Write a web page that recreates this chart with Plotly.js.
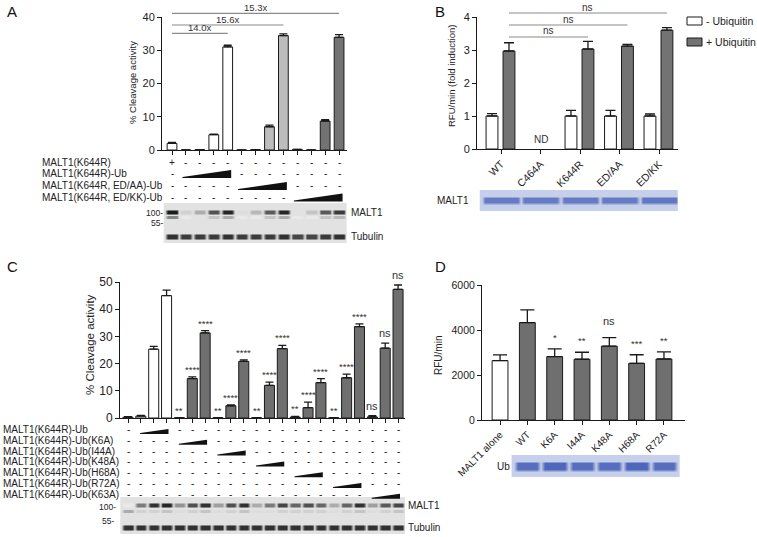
<!DOCTYPE html>
<html><head><meta charset="utf-8">
<script src="https://cdn.plot.ly/plotly-3.0.1.min.js"></script>
<style>body{margin:0;background:#fff}#chart{width:757px;height:537px}</style>
</head><body><div id="chart"></div>
<script>
// ================= DATA =================
// Panel A
const lanesA = [1,2,3,4,5,6,7,8,9,10,11,12,13];
const cleavageA = [2.0, 0, 0.1, 4.6, 31.0, 0, 0.1, 7.0, 34.4, 0.2, 0, 8.7, 33.9];
const errA = [0.3, null, null, 0.2, 0.5, null, null, 0.5, 0.5, null, null, 0.4, 0.8];
const groupA = ['Ub','Ub','Ub','Ub','Ub','AA','AA','AA','AA','KK','KK','KK','KK'];
const foldLabelsA = ['14.0x','15.6x','15.3x'];
const foldEndLaneA = [5, 9, 13];
const tableRowsA = ['MALT1(K644R)','MALT1(K644R)-Ub','MALT1(K644R, ED/AA)-Ub','MALT1(K644R, ED/KK)-Ub'];
const tableMarksA = ['+------------','-WWWW--------','-----WWWW----','---------WWWW'];
const blotA_MALT1 = [0.95,0.15,0.3,0.7,0.9,0.1,0.25,0.65,0.9,0.08,0.2,0.65,0.8];
const blotA_lower = [0.45,0.05,0.08,0.2,0.3,0.05,0.05,0.2,0.3,0.05,0.05,0.2,0.25];
const blotA_tubulin = [0.85,0.8,0.8,0.8,0.85,0.8,0.8,0.8,0.85,0.75,0.75,0.8,0.85];

// Panel B
const mutantsB = ['WT','C464A','K644R','ED/AA','ED/KK'];
const minusUbB = [1.0, null, 1.0, 1.0, 1.0];
const minusUbErrB = [0.07, null, 0.17, 0.17, 0.06];
const plusUbB = [2.97, null, 3.03, 3.12, 3.6];
const plusUbErrB = [0.25, null, 0.23, 0.05, 0.08];
const nsEndB = [2, 3, 4];
const blotB_MALT1 = [0.75,0.75,0.75,0.75,0.78];

// Panel C
const lanesC = [1,2,3,4,5,6,7,8,9,10,11,12,13,14,15,16,17,18,19,20,21,22];
const cleavageC = [0.3,0.7,25.3,45.0,0.1,14.5,31.3,0.1,4.5,20.8,0.1,12.0,25.5,0.3,3.8,13.0,0.1,14.8,33.6,0.4,25.7,47.3];
const errC = [0.2,0.3,1.0,2.0,null,0.6,0.8,null,0.3,0.6,null,1.2,1.2,0.3,2.0,1.5,null,1.3,1.0,0.5,1.8,1.6];
const sigC = ['','','','','**','****','****','**','****','****','**','****','****','**','****','****','**','****','****','ns','ns','ns'];
const tableRowsC = ['MALT1(K644R)-Ub','MALT1(K644R)-Ub(K6A)','MALT1(K644R)-Ub(I44A)','MALT1(K644R)-Ub(K48A)','MALT1(K644R)-Ub(H68A)','MALT1(K644R)-Ub(R72A)','MALT1(K644R)-Ub(K63A)'];
const tableMarksC = [
'-WWW------------------',
'----WWW---------------',
'-------WWW------------',
'----------WWW---------',
'-------------WWW------',
'----------------WWW---',
'-------------------WWW'];
const blotC_MALT1 = [0.05,0.5,0.85,0.9,0.4,0.7,0.85,0.35,0.7,0.85,0.3,0.5,0.75,0.6,0.7,0.6,0.3,0.6,0.85,0.35,0.65,0.75];
const blotC_lower = [0.3,0.15,0.15,0.2,0.1,0.15,0.2,0.1,0.15,0.2,0.1,0.1,0.15,0.15,0.15,0.15,0.1,0.15,0.2,0.1,0.15,0.2];
const blotC_tubulin = [0.85,0.85,0.85,0.85,0.85,0.85,0.85,0.85,0.85,0.85,0.85,0.85,0.85,0.85,0.85,0.85,0.85,0.85,0.85,0.85,0.85,0.85];

// Panel D
const variantsD = ['MALT1 alone','WT','K6A','I44A','K48A','H68A','R72A'];
const rfuD = [2640, 4330, 2820, 2700, 3280, 2520, 2710];
const rfuErrD = [250, 560, 340, 310, 380, 380, 320];
const sigD = ['', '', '*', '**', 'ns', '***', '**'];
const blotD_Ub = [0.85,0.9,0.85,0.85,0.9,0.85];

// ================= HELPERS =================
const FONT = 'Liberation Sans, Arial, Helvetica, sans-serif';
const W = 757, H = 537;
const px = p => p / W;
const py = p => 1 - p / H;
const f = (size, color) => ({family: FONT, size: size, color: color || '#222'});
const annotations = [];
const shapes = [];
function txt(o) { annotations.push(Object.assign({showarrow: false, xanchor: 'center', yanchor: 'middle', font: f(10)}, o)); }

function blot(lanes, bands, o) {
  const xs = [], colLane = [];
  xs.push(lanes[0] - 0.5); colLane.push(-1);
  lanes.forEach((p, i) => {
    xs.push(p - o.hw); colLane.push(i);
    xs.push(p + o.hw); colLane.push(i);
    xs.push(p + 0.5); colLane.push(-1);
  });
  let rows = [{y: 0, b: -1}, {y: o.top, b: -1}];
  bands.forEach((b, k) => {
    rows.push({y: b.c - b.h - b.fade, b: -1});
    rows.push({y: b.c - b.h, b: k});
    rows.push({y: b.c + b.h, b: k});
    rows.push({y: b.c + b.h + b.fade, b: -1});
  });
  rows.sort((a, b) => a.y - b.y);
  const z = rows.map(r => colLane.map(c => (r.b < 0 || c < 0) ? o.bg : bands[r.b].v[c]));
  return {type: 'heatmap', x: xs, y: rows.map(r => r.y), z: z, zsmooth: 'best',
    zmin: 0, zmax: 1, colorscale: o.cs, showscale: false, hoverinfo: 'skip',
    xaxis: o.xaxis, yaxis: o.yaxis};
}
const grayCS = [[0,'#f4f4f4'],[0.08,'#e2e2e2'],[0.5,'#7a7a7a'],[1,'#111111']];
const blueCS = [[0,'#dfe5f3'],[0.12,'#c6d0ea'],[1,'#4059b4']];

function wedges(marks, rowY, xref, pad0, pad1, hBottom, hTop) {
  marks.forEach((m, r) => {
    const chars = m.split('');
    const idx = chars.map((c, i) => c === 'W' ? i + 1 : null).filter(v => v !== null);
    if (idx.length) {
      const x0 = idx[0] - pad0, x1 = idx[idx.length - 1] + pad1;
      const yb = py(rowY[r] + hBottom), yt = py(rowY[r] - hTop), ytip = py(rowY[r] + hBottom - 1);
      shapes.push({type: 'path', xref: xref, yref: 'paper',
        path: `M${x0},${yb} L${x1},${yb} L${x1},${yt} L${x0},${ytip} Z`,
        fillcolor: '#111', line: {width: 0}});
    }
    chars.forEach((c, i) => {
      if (c !== 'W') txt({x: i + 1, xref: xref, y: py(rowY[r]), yref: 'paper', text: c, font: f(10)});
    });
  });
}

const axLine = {showline: true, linecolor: '#1a1a1a', linewidth: 1, ticks: 'outside', ticklen: 4,
  tickwidth: 1, tickcolor: '#1a1a1a', showgrid: false, zeroline: false, fixedrange: true};
const hidden = {visible: false, fixedrange: true, showgrid: false, zeroline: false};
const errStyle = (arr, capw) => ({type: 'data', array: arr, arrayminus: arr.map(() => 0), symmetric: false,
  color: '#1a1a1a', thickness: 1.3, width: capw});

// ================= TRACES =================
const colorsA = {Ub: '#ffffff', AA: '#bdbdbd', KK: '#737373'};
const traces = [];

traces.push({type: 'bar', x: lanesA, y: cleavageA, width: 0.7, xaxis: 'x', yaxis: 'y',
  marker: {color: groupA.map(g => colorsA[g]), line: {color: '#1a1a1a', width: 1}},
  error_y: errStyle(errA, 4), showlegend: false, hoverinfo: 'skip'});

const xB = mutantsB.map((m, i) => i);
traces.push({type: 'bar', x: xB, y: minusUbB, width: 0.3, offset: -0.38, xaxis: 'x2', yaxis: 'y2',
  name: '- Ubiquitin', marker: {color: '#ffffff', line: {color: '#1a1a1a', width: 1}},
  error_y: errStyle(minusUbErrB, 5), showlegend: false, hoverinfo: 'skip'});
traces.push({type: 'bar', x: xB, y: plusUbB, width: 0.3, offset: 0.05, xaxis: 'x2', yaxis: 'y2',
  name: '+ Ubiquitin', marker: {color: '#737373', line: {color: '#1a1a1a', width: 1}},
  error_y: errStyle(plusUbErrB, 5), showlegend: false, hoverinfo: 'skip'});

traces.push({type: 'bar', x: lanesC, y: cleavageC, width: 0.78, xaxis: 'x3', yaxis: 'y3',
  marker: {color: lanesC.map(l => l <= 4 ? '#ffffff' : '#6f6f6f'), line: {color: '#1a1a1a', width: 1}},
  error_y: errStyle(errC, 4), showlegend: false, hoverinfo: 'skip'});

const xD = variantsD.map((v, i) => i);
traces.push({type: 'bar', x: xD, y: rfuD, width: 0.58, xaxis: 'x4', yaxis: 'y4',
  marker: {color: xD.map(i => i === 0 ? '#ffffff' : '#6f6f6f'), line: {color: '#1a1a1a', width: 1}},
  error_y: errStyle(rfuErrD, 7), showlegend: false, hoverinfo: 'skip'});

// Blots
traces.push(blot(lanesA, [
  {c: 31, h: 1.2, fade: 2, v: blotA_MALT1},
  {c: 26, h: 0.6, fade: 1.8, v: blotA_lower},
  {c: 6.5, h: 1.5, fade: 2, v: blotA_tubulin}], {hw: 0.3, bg: 0.08, top: 40, cs: grayCS, xaxis: 'x', yaxis: 'y5'}));
traces.push(blot(xB, [{c: 11, h: 2, fade: 2.5, v: blotB_MALT1}], {hw: 0.42, bg: 0.12, top: 21, cs: blueCS, xaxis: 'x2', yaxis: 'y6'}));
traces.push(blot(lanesC, [
  {c: 29, h: 1.3, fade: 2, v: blotC_MALT1},
  {c: 23, h: 0.7, fade: 1.5, v: blotC_lower},
  {c: 7, h: 1.5, fade: 2, v: blotC_tubulin}], {hw: 0.3, bg: 0.08, top: 37, cs: grayCS, xaxis: 'x3', yaxis: 'y7'}));
traces.push(blot(xD.slice(1), [{c: 11, h: 3, fade: 2.5, v: blotD_Ub}], {hw: 0.35, bg: 0.12, top: 22, cs: blueCS, xaxis: 'x4', yaxis: 'y8'}));

// ================= ANNOTATIONS =================
// Panel letters
txt({x: px(5), y: py(12), xref: 'paper', yref: 'paper', xanchor: 'left', text: 'A', font: f(15, '#111')});
txt({x: px(433), y: py(11), xref: 'paper', yref: 'paper', xanchor: 'left', text: 'B', font: f(15, '#111')});
txt({x: px(5), y: py(266), xref: 'paper', yref: 'paper', xanchor: 'left', text: 'C', font: f(15, '#111')});
txt({x: px(433), y: py(266), xref: 'paper', yref: 'paper', xanchor: 'left', text: 'D', font: f(15, '#111')});

// A
const foldLineYA = [33.3, 25, 13.3];
foldLabelsA.forEach((t, k) => {
  shapes.push({type: 'line', xref: 'x', yref: 'paper', x0: 1, x1: foldEndLaneA[k], y0: py(foldLineYA[k]), y1: py(foldLineYA[k]), line: {color: '#8a8a8a', width: 1.2}});
  txt({x: (1 + foldEndLaneA[k]) / 2, xref: 'x', y: py(foldLineYA[k]), yref: 'paper', yshift: 6, text: t, font: f(9.5, '#333')});
});
txt({x: px(132), y: py(83), xref: 'paper', yref: 'paper', textangle: -90, text: '% Cleavage activity', font: f(9.5)});
const rowYA = [162, 173.5, 185.5, 197];
tableRowsA.forEach((t, r) => txt({x: px(40), y: py(rowYA[r]), xref: 'paper', yref: 'paper', xanchor: 'left', text: t, font: f(10)}));
wedges(tableMarksA, rowYA, 'x', 0.25, 0.25, 4.5, 3.5);
txt({x: px(165), y: py(213), xref: 'paper', yref: 'paper', xanchor: 'right', text: '100-', font: f(8.5)});
txt({x: px(165), y: py(223), xref: 'paper', yref: 'paper', xanchor: 'right', text: '55-', font: f(8.5)});
txt({x: px(349), y: py(212), xref: 'paper', yref: 'paper', xanchor: 'left', text: 'MALT1', font: f(10)});
txt({x: px(349), y: py(237), xref: 'paper', yref: 'paper', xanchor: 'left', text: 'Tubulin', font: f(10)});

// B
const nsLineYB = [37, 25, 13];
nsEndB.forEach((e, k) => {
  shapes.push({type: 'line', xref: 'x2', yref: 'paper', x0: 0.2, x1: e + 0.2, y0: py(nsLineYB[k]), y1: py(nsLineYB[k]), line: {color: '#8a8a8a', width: 1.2}});
  txt({x: (0.2 + e + 0.2) / 2, xref: 'x2', y: py(nsLineYB[k]), yref: 'paper', yshift: 6, text: 'ns', font: f(10, '#333')});
});
txt({x: px(452), y: py(76), xref: 'paper', yref: 'paper', textangle: -90, text: 'RFU/min (fold induction)', font: f(9.5)});
txt({x: 1, xref: 'x2', y: 0.3, yref: 'y2', text: 'ND', font: f(10, '#333')});
txt({x: px(471), y: py(200), xref: 'paper', yref: 'paper', xanchor: 'right', text: 'MALT1', font: f(10)});
// legend (manual)
shapes.push({type: 'rect', xref: 'paper', yref: 'paper', x0: px(687), x1: px(702), y0: py(25), y1: py(17), fillcolor: '#ffffff', line: {color: '#1a1a1a', width: 1}});
shapes.push({type: 'rect', xref: 'paper', yref: 'paper', x0: px(687), x1: px(702), y0: py(46), y1: py(38), fillcolor: '#737373', line: {color: '#1a1a1a', width: 1}});
txt({x: px(704), y: py(21), xref: 'paper', yref: 'paper', xanchor: 'left', text: '- Ubiquitin', font: f(10.5)});
txt({x: px(704), y: py(42), xref: 'paper', yref: 'paper', xanchor: 'left', text: '+ Ubiquitin', font: f(10.5)});

// C
sigC.forEach((s, i) => {
  if (!s) return;
  const top = cleavageC[i] + (errC[i] || 0);
  txt({x: lanesC[i], xref: 'x3', y: top, yref: 'y3', yanchor: 'bottom', yshift: s === 'ns' ? 2 : 0,
    text: s, font: f(s === 'ns' ? 11 : 9.5, '#333')});
});
txt({x: px(90), y: py(345), xref: 'paper', yref: 'paper', textangle: -90, text: '% Cleavage activity', font: f(11.5)});
const rowYC = tableRowsC.map((t, i) => 429.5 + 10.8 * i);
tableRowsC.forEach((t, r) => txt({x: px(1), y: py(rowYC[r]), xref: 'paper', yref: 'paper', xanchor: 'left', text: t, font: f(10)}));
wedges(tableMarksC, rowYC, 'x3', 0.05, 0.15, 4.5, 0.5);
txt({x: px(118), y: py(507), xref: 'paper', yref: 'paper', xanchor: 'right', text: '100-', font: f(8.5)});
txt({x: px(116), y: py(521), xref: 'paper', yref: 'paper', xanchor: 'right', text: '55-', font: f(8.5)});
txt({x: px(406), y: py(505), xref: 'paper', yref: 'paper', xanchor: 'left', text: 'MALT1', font: f(10)});
txt({x: px(406), y: py(527), xref: 'paper', yref: 'paper', xanchor: 'left', text: 'Tubulin', font: f(10)});

// D
sigD.forEach((s, i) => {
  if (!s) return;
  txt({x: i, xref: 'x4', y: rfuD[i] + rfuErrD[i], yref: 'y4', yanchor: 'bottom', yshift: s === 'ns' ? 9 : 4,
    text: s, font: f(s === 'ns' ? 11 : 9.5, '#333')});
});
txt({x: px(438), y: py(356), xref: 'paper', yref: 'paper', textangle: -90, text: 'RFU/min', font: f(10)});
txt({x: px(512), y: py(466), xref: 'paper', yref: 'paper', xanchor: 'right', text: 'Ub', font: f(10)});

// ================= LAYOUT =================
const layout = {
  width: W, height: H, margin: {l: 0, r: 0, t: 0, b: 0},
  paper_bgcolor: '#ffffff', plot_bgcolor: 'rgba(0,0,0,0)',
  barmode: 'overlay', showlegend: false, font: f(11),
  xaxis: Object.assign({}, axLine, {domain: [px(162), px(347)], range: [0.28, 13.57], anchor: 'y', tickvals: lanesA, showticklabels: false}),
  yaxis: Object.assign({}, axLine, {domain: [py(150), py(17)], range: [0, 40], anchor: 'x', tickvals: [0,10,20,30,40], tickfont: f(11)}),
  xaxis2: Object.assign({}, axLine, {domain: [px(477), px(678)], range: [-0.61, 4.48], anchor: 'y2', tickvals: xB, ticktext: mutantsB, tickangle: -45, tickfont: f(10.5)}),
  yaxis2: Object.assign({}, axLine, {domain: [py(149), py(17)], range: [0, 4], anchor: 'x2', tickvals: [0,1,2,3,4], tickfont: f(11)}),
  xaxis3: Object.assign({}, axLine, {domain: [px(120), px(405)], range: [0.378, 22.54], anchor: 'y3', tickvals: lanesC, showticklabels: false}),
  yaxis3: Object.assign({}, axLine, {domain: [py(418), py(282)], range: [0, 50], anchor: 'x3', tickvals: [0,10,20,30,40,50], tickfont: f(12)}),
  xaxis4: Object.assign({}, axLine, {domain: [px(482), px(685)], range: [-0.66, 6.77], anchor: 'y4', tickvals: xD, ticktext: variantsD, tickangle: -45, tickfont: f(10)}),
  yaxis4: Object.assign({}, axLine, {domain: [py(420), py(285)], range: [0, 6000], anchor: 'x4', tickvals: [0,2000,4000,6000], tickfont: f(10.5)}),
  yaxis5: Object.assign({}, hidden, {domain: [py(243), py(203)], range: [0, 40], anchor: 'x'}),
  yaxis6: Object.assign({}, hidden, {domain: [py(211), py(190)], range: [0, 21], anchor: 'x2'}),
  yaxis7: Object.assign({}, hidden, {domain: [py(534), py(497)], range: [0, 37], anchor: 'x3'}),
  yaxis8: Object.assign({}, hidden, {domain: [py(477), py(455)], range: [0, 22], anchor: 'x4'}),
  annotations: annotations, shapes: shapes
};

Plotly.newPlot('chart', traces, layout, {displayModeBar: false, staticPlot: true});
</script>
</body></html>
